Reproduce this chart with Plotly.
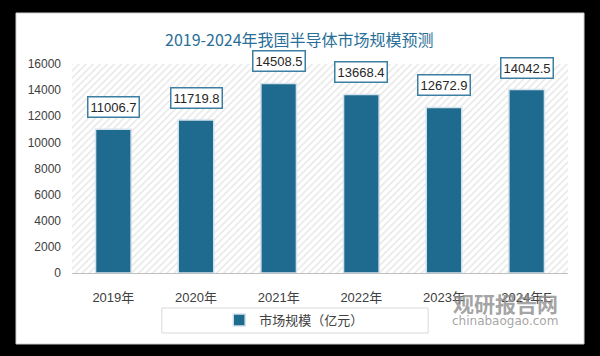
import plotly.graph_objects as go

categories = ["2019年", "2020年", "2021年", "2022年", "2023年", "2024年E"]
values = [11006.7, 11719.8, 14508.5, 13668.4, 12672.9, 14042.5]
y_ticks = [0, 2000, 4000, 6000, 8000, 10000, 12000, 14000, 16000]
series_name = "市场规模（亿元）"
title_text = "2019-2024年我国半导体市场规模预测"

BAR = "#1f6b8f"
fig = go.Figure()

# hatched plot-area background on hidden base axes
fig.add_trace(go.Scatter(
    x=[0, 1, 1, 0, 0], y=[0, 0, 1, 1, 0], xaxis="x", yaxis="y",
    mode="lines", line=dict(width=0), fill="toself", fillcolor="white",
    fillpattern=dict(shape="/", fgcolor="#cfcfcf", bgcolor="white", size=5, solidity=0.3),
    hoverinfo="skip", showlegend=False))

fig.add_trace(go.Bar(
    x=categories, y=values, xaxis="x2", yaxis="y2", name=series_name,
    marker=dict(color=BAR, line=dict(color="#d5e3ec", width=1.5)),
    width=0.43))

for c, v in zip(categories, values):
    fig.add_annotation(x=c, y=v, xref="x2", yref="y2", text=f"{v:.1f}",
                       showarrow=False, yanchor="bottom", yshift=11,
                       bgcolor="white", bordercolor="#3c7fa3", borderwidth=1.5, borderpad=2,
                       font=dict(family="Liberation Sans, Arial", size=13, color="#262626"))

# title
fig.add_annotation(x=(299 - 72) / 496, y=(273 - 39) / 209, xref="paper", yref="paper", text=title_text,
                   showarrow=False, xanchor="center", yanchor="middle",
                   font=dict(family="Noto Sans CJK SC", size=16, color="#2a6f97"))

fig.update_layout(
    width=600, height=356,
    paper_bgcolor="black", plot_bgcolor="white",
    margin=dict(l=72, r=32, t=64, b=83),
    barmode="overlay",
    xaxis=dict(range=[0, 1], visible=False, fixedrange=True),
    yaxis=dict(range=[0, 1], visible=False, fixedrange=True),
    xaxis2=dict(overlaying="x", showgrid=False, showline=True, linecolor="#bfbfbf", linewidth=1,
                ticks="", ticklabelstandoff=12,
                tickfont=dict(family="Liberation Sans, Noto Sans CJK SC", size=13, color="#404040")),
    yaxis2=dict(overlaying="y", range=[0, 16000], tickvals=y_ticks, tickformat="d",
                showgrid=False, zeroline=False,
                showline=False, ticks="", ticklabelstandoff=10,
                tickfont=dict(family="Liberation Sans, Arial", size=12, color="#404040")),
    showlegend=True,
    legend=dict(orientation="h", x=0.448, y=-0.225, xanchor="center", yanchor="middle",
                bgcolor="rgba(0,0,0,0)", font=dict(family="Noto Sans CJK SC", size=13, color="#404040")),
)

# white panel and legend box
fig.add_shape(type="rect", xref="paper", yref="paper", x0=-0.1129, x1=1.0323, y0=-0.3397, y1=1.244,
              fillcolor="white", line=dict(color="#d0d0d0", width=1), layer="below")
fig.add_shape(type="rect", xref="paper", yref="paper", x0=0.181, x1=0.718, y0=-0.1675, y1=-0.287,
              fillcolor="rgba(0,0,0,0)", line=dict(color="#d9d9d9", width=1), layer="above")

# watermark
fig.add_annotation(x=(505 - 72) / 496, y=(273 - 303) / 209, xref="paper", yref="paper", text="<b>观研报告网</b>",
                   showarrow=False, xanchor="center", yanchor="middle",
                   font=dict(family="Noto Sans CJK SC", size=21, color="rgba(140,140,140,0.8)"))
fig.add_annotation(x=(505 - 72) / 496, y=(273 - 321) / 209, xref="paper", yref="paper", text="chinabaogao.com",
                   showarrow=False, xanchor="center", yanchor="middle",
                   font=dict(family="DejaVu Sans", size=12, color="rgba(140,140,140,0.8)"))

fig.write_html("out.html", config={"displayModeBar": False},
               post_script="document.body.style.margin='0';document.body.style.overflow='hidden';")
